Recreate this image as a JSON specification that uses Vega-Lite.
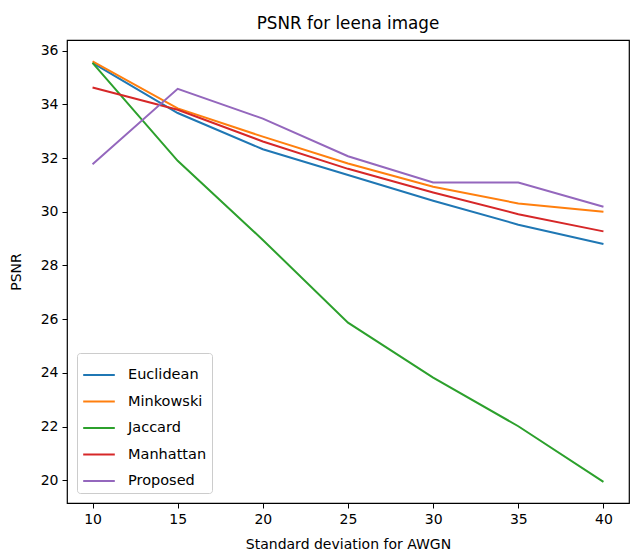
{
  "$schema": "https://vega.github.io/schema/vega-lite/v6.json",
  "autosize": {"type": "none"},
  "width": 562,
  "height": 463,
  "padding": {"left": 67, "top": 40, "right": 1, "bottom": 53},
  "background": "white",
  "title": {
    "text": "PSNR for leena image",
    "font": "DejaVu Sans",
    "fontSize": 16.8,
    "fontWeight": "normal",
    "color": "#000",
    "offset": 7,
    "anchor": "middle"
  },
  "config": {
    "view": {"stroke": "#000", "strokeWidth": 1.2},
    "font": "DejaVu Sans",
    "axis": {
      "grid": false,
      "domain": false,
      "tickColor": "#000",
      "tickSize": 5,
      "tickWidth": 1,
      "labelFont": "DejaVu Sans",
      "labelFontSize": 14,
      "labelColor": "#000",
      "labelPadding": 4,
      "titleFont": "DejaVu Sans",
      "titleFontSize": 14,
      "titleFontWeight": "normal",
      "titleColor": "#000"
    }
  },
  "data": {
    "values": [
      {"sigma": 10, "method": "Euclidean", "psnr": 35.55},
      {"sigma": 15, "method": "Euclidean", "psnr": 33.68},
      {"sigma": 20, "method": "Euclidean", "psnr": 32.33},
      {"sigma": 25, "method": "Euclidean", "psnr": 31.37},
      {"sigma": 30, "method": "Euclidean", "psnr": 30.41},
      {"sigma": 35, "method": "Euclidean", "psnr": 29.52},
      {"sigma": 40, "method": "Euclidean", "psnr": 28.8},
      {"sigma": 10, "method": "Minkowski", "psnr": 35.6},
      {"sigma": 15, "method": "Minkowski", "psnr": 33.85},
      {"sigma": 20, "method": "Minkowski", "psnr": 32.8},
      {"sigma": 25, "method": "Minkowski", "psnr": 31.8},
      {"sigma": 30, "method": "Minkowski", "psnr": 30.93},
      {"sigma": 35, "method": "Minkowski", "psnr": 30.31},
      {"sigma": 40, "method": "Minkowski", "psnr": 30.0},
      {"sigma": 10, "method": "Jaccard", "psnr": 35.55},
      {"sigma": 15, "method": "Jaccard", "psnr": 31.9},
      {"sigma": 20, "method": "Jaccard", "psnr": 28.95},
      {"sigma": 25, "method": "Jaccard", "psnr": 25.87},
      {"sigma": 30, "method": "Jaccard", "psnr": 23.82},
      {"sigma": 35, "method": "Jaccard", "psnr": 22.01},
      {"sigma": 40, "method": "Jaccard", "psnr": 19.94},
      {"sigma": 10, "method": "Manhattan", "psnr": 34.63},
      {"sigma": 15, "method": "Manhattan", "psnr": 33.8},
      {"sigma": 20, "method": "Manhattan", "psnr": 32.62},
      {"sigma": 25, "method": "Manhattan", "psnr": 31.6},
      {"sigma": 30, "method": "Manhattan", "psnr": 30.72},
      {"sigma": 35, "method": "Manhattan", "psnr": 29.91},
      {"sigma": 40, "method": "Manhattan", "psnr": 29.27},
      {"sigma": 10, "method": "Proposed", "psnr": 31.77},
      {"sigma": 15, "method": "Proposed", "psnr": 34.58},
      {"sigma": 20, "method": "Proposed", "psnr": 33.47},
      {"sigma": 25, "method": "Proposed", "psnr": 32.07},
      {"sigma": 30, "method": "Proposed", "psnr": 31.09},
      {"sigma": 35, "method": "Proposed", "psnr": 31.09},
      {"sigma": 40, "method": "Proposed", "psnr": 30.19}
    ]
  },
  "mark": {"type": "line", "strokeWidth": 2},
  "encoding": {
    "x": {
      "field": "sigma",
      "type": "quantitative",
      "title": "Standard deviation for AWGN",
      "scale": {"domain": [8.5, 41.5], "nice": false, "zero": false},
      "axis": {"values": [10, 15, 20, 25, 30, 35, 40], "titlePadding": 11}
    },
    "y": {
      "field": "psnr",
      "type": "quantitative",
      "title": "PSNR",
      "scale": {"domain": [19.15, 36.4], "nice": false, "zero": false},
      "axis": {"values": [20, 22, 24, 26, 28, 30, 32, 34, 36], "titlePadding": 17}
    },
    "color": {
      "field": "method",
      "type": "nominal",
      "sort": ["Euclidean", "Minkowski", "Jaccard", "Manhattan", "Proposed"],
      "scale": {
        "domain": ["Euclidean", "Minkowski", "Jaccard", "Manhattan", "Proposed"],
        "range": ["#1f77b4", "#ff7f0e", "#2ca02c", "#d62728", "#9467bd"]
      },
      "legend": {
        "title": null,
        "orient": "none",
        "legendX": 10,
        "legendY": 313,
        "symbolType": "stroke",
        "symbolSize": 1000,
        "symbolStrokeWidth": 2,
        "labelFont": "DejaVu Sans",
        "labelFontSize": 14.5,
        "labelColor": "#000",
        "labelOffset": 12,
        "padding": 5,
        "fillColor": "rgba(255,255,255,0.8)",
        "strokeColor": "#cccccc",
        "cornerRadius": 3,
        "rowPadding": 2.5
      }
    }
  }
}
